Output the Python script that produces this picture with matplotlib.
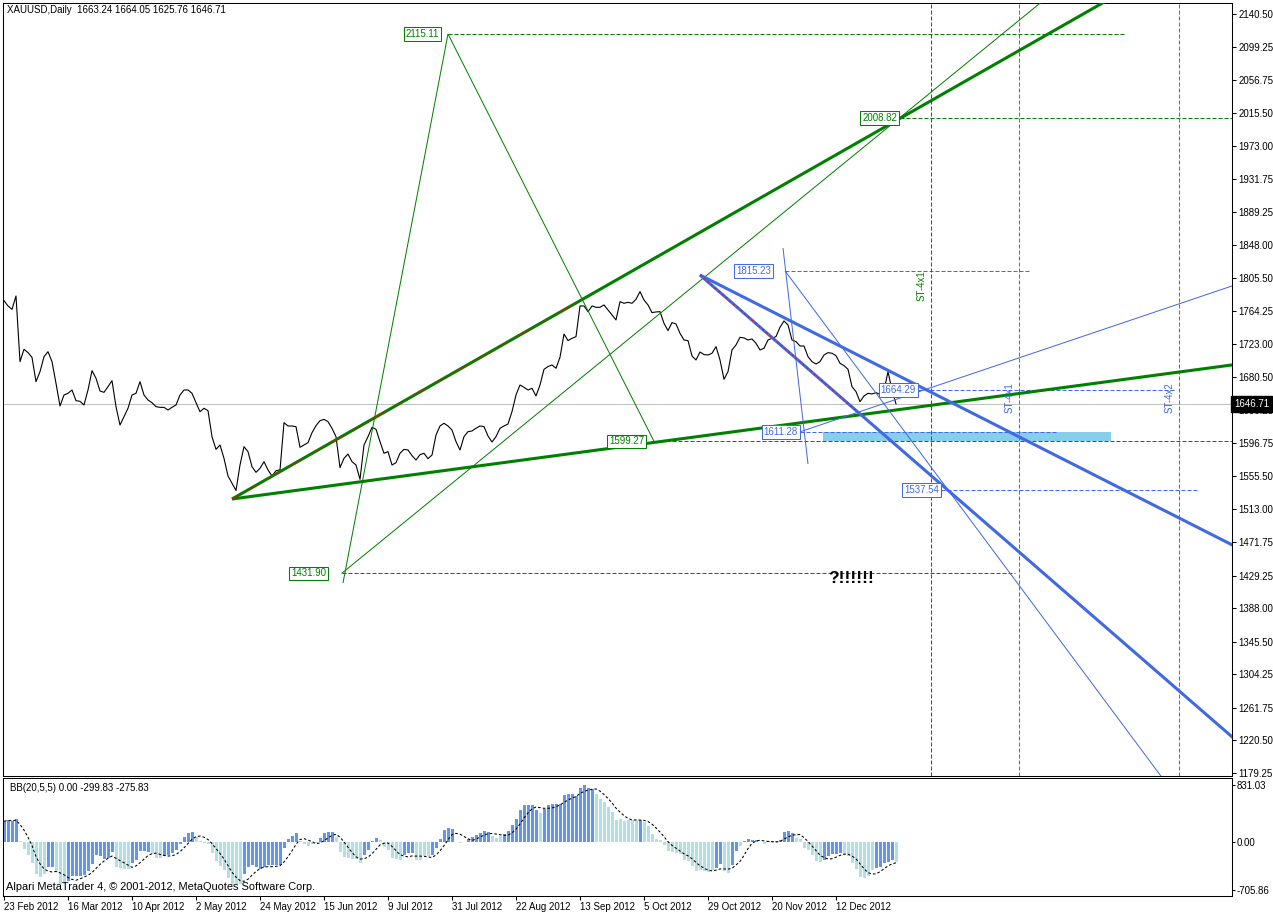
import numpy as np
import pandas as pd
import matplotlib
matplotlib.use("Agg")
import matplotlib.pyplot as plt
from matplotlib.patches import Rectangle
from matplotlib.transforms import blended_transform_factory

plt.rcParams['font.family'] = ['Liberation Sans', 'DejaVu Sans']

# daily closes, one per bar (23 Feb 2012 .. end Dec 2012)
close = [
    1777.4, 1770.7, 1766.4, 1783.3, 1700.2, 1715.8, 1711.6, 1705.6, 1674.8, 1687.5,
    1706.5, 1712.8, 1700.2, 1672.7, 1644.0, 1657.9, 1660.1, 1664.3, 1650.8, 1649.9,
    1645.3, 1664.3, 1688.8, 1679.1, 1663.0, 1661.3, 1668.5, 1676.1, 1643.2, 1619.9,
    1630.5, 1641.1, 1657.9, 1660.1, 1674.8, 1657.9, 1651.6, 1648.2, 1643.2, 1642.3,
    1642.3, 1638.9, 1642.3, 1645.3, 1657.9, 1664.3, 1664.3, 1660.1, 1648.2, 1636.8,
    1641.1, 1638.1, 1605.2, 1589.1, 1594.6, 1577.7, 1555.4, 1546.1, 1537.0, 1569.3,
    1592.5, 1586.2, 1567.2, 1560.0, 1565.1, 1573.5, 1563.0, 1555.4, 1562.1, 1563.0,
    1622.9, 1618.7, 1618.7, 1617.8, 1591.7, 1594.6, 1597.6, 1610.2, 1619.1, 1625.4,
    1627.1, 1624.2, 1615.7, 1605.2, 1565.9, 1577.7, 1583.2, 1573.5, 1569.3, 1551.1,
    1594.6, 1605.2, 1617.0, 1614.5, 1598.8, 1584.1, 1586.2, 1569.3, 1572.2, 1584.1,
    1589.1, 1588.3, 1581.1, 1575.6, 1582.4, 1584.1, 1577.3, 1581.9, 1607.3, 1618.7,
    1622.1, 1618.7, 1613.6, 1598.9, 1588.3, 1605.2, 1611.5, 1612.4, 1615.8, 1618.7,
    1617.9, 1606.0, 1598.4, 1605.2, 1615.8, 1618.7, 1621.2, 1636.9, 1658.0, 1670.6,
    1667.7, 1664.3, 1666.4, 1656.7, 1670.6, 1690.5, 1693.9, 1696.0, 1691.8, 1705.7,
    1735.2, 1726.8, 1729.7, 1731.9, 1770.7, 1770.7, 1763.5, 1770.7, 1769.0, 1769.0,
    1772.0, 1765.6, 1759.3, 1753.0, 1776.2, 1774.1, 1775.3, 1774.1, 1779.1, 1788.9,
    1778.3, 1772.0, 1762.3, 1763.1, 1763.5, 1748.7, 1739.5, 1749.6, 1747.9, 1736.1,
    1727.6, 1726.8, 1707.4, 1702.3, 1712.4, 1709.1, 1708.6, 1710.8, 1719.2, 1702.3,
    1677.8, 1687.5, 1715.0, 1721.3, 1731.0, 1730.2, 1727.6, 1728.9, 1723.4, 1715.0,
    1717.1, 1727.6, 1729.8, 1731.9, 1743.7, 1751.7, 1746.6, 1727.6, 1725.5, 1720.0,
    1720.0, 1706.5, 1700.2, 1697.2, 1700.2, 1708.6, 1711.6, 1710.8, 1707.8, 1698.1,
    1695.1, 1690.5, 1668.5, 1662.2, 1649.5, 1656.7, 1660.1, 1659.2, 1660.9, 1658.8,
    1663.5, 1687.5, 1664.3, 1646.71,
]

# BB(20,5,5) histogram
hist = [
    305, 329, 305, 339, 10, -108, -196, -309, -476, -516,
    -476, -368, -368, -442, -614, -614, -575, -506, -506, -506,
    -491, -432, -319, -196, -211, -246, -231, -147, -368, -378,
    -403, -403, -309, -270, -137, -137, -147, -172, -231, -231,
    -211, -187, -162, -123, -34, 74, 133, 142, 74, 15,
    -15, -34, -162, -280, -359, -418, -526, -639, -639, -614,
    -476, -368, -344, -368, -393, -368, -344, -344, -344, -344,
    -88, 39, 83, 133, 15, -25, -64, -34, -15, 64,
    133, 152, 142, 74, -147, -221, -231, -246, -246, -309,
    -196, -123, 15, 64, 25, -74, -113, -231, -246, -260,
    -196, -162, -162, -260, -260, -211, -211, -196, -83, 49,
    172, 211, 196, 5, -10, 5, 39, 74, 98, 133,
    157, 147, 83, 64, 83, 113, 157, 246, 344, 467,
    540, 540, 540, 476, 427, 491, 540, 565, 565, 555,
    688, 702, 712, 678, 786, 835, 796, 776, 702, 629,
    580, 516, 442, 319, 344, 309, 319, 319, 329, 329,
    295, 231, 123, 49, 34, -49, -137, -147, -157, -172,
    -260, -285, -359, -427, -418, -427, -442, -408, -378, -329,
    -427, -457, -344, -137, -64, 15, 49, 34, 34, -5,
    -34, 10, 10, 20, 29, 147, 162, 138, 59, 39,
    -83, -113, -196, -285, -295, -260, -211, -182, -172, -162,
    -172, -211, -309, -393, -516, -530, -506, -408, -378, -368,
    -309, -295, -260, -300,
]
# D = dark bar (rising), L = light bar (falling)
hist_up = ("DDDDLLLLLLLDDLLL" "DDDDDDDDDDDD" "LLLL" "DDDDD" "LLL" "DDDDDDDD"
           "LLLLLLLLLLLL" "DDDDDDDDDDDDDD" "LLLLL" "DDDD" "LLLLLLL" "DDDD"
           "LLLLLL" "DDD" "LLLL" "DDDDDD" "LLL" "DDDDDD" "LLL" "DDDDDDDDD" "L"
           "DDDDDDDDDDDDD" "LLLLLLLLLLL" "D" "LLLLLLLLLLLLLLLLLL" "DD" "LL" "DD"
           "L" "DDDD" "LL" "DDDDDDD" "LLLLLLL" "DDDDD" "LLLLLLLL" "DDDDD" "L")

date_labels = ["23 Feb 2012", "16 Mar 2012", "10 Apr 2012", "2 May 2012", "24 May 2012",
               "15 Jun 2012", "9 Jul 2012", "31 Jul 2012", "22 Aug 2012", "13 Sep 2012",
               "5 Oct 2012", "29 Oct 2012", "20 Nov 2012", "12 Dec 2012"]
date_bars = [0, 16, 32, 48, 64, 80, 96, 112, 128, 144, 160, 176, 192, 208]

price_ticks = [2140.50, 2099.25, 2056.75, 2015.50, 1973.00, 1931.75, 1889.25, 1848.00,
               1805.50, 1764.25, 1723.00, 1680.50, 1639.25, 1596.75, 1555.50, 1513.00,
               1471.75, 1429.25, 1388.00, 1345.50, 1304.25, 1261.75, 1220.50, 1179.25]
osc_ticks = [831.03, 0.00, -705.86]

# chart objects: anchors as (bar, price)
green_up = [(57, 1526.2), (144.75, 1779.5)]
green_low = [(57, 1526.2), (307, 1696.0)]
green_steep = [(84.75, 1419.9), (111, 2115.11)]
green_back = [(111, 2115.11), (162.5, 1599.27)]
green_thin = [(84.4, 1431.9), (111.5, 1544.0)]
blue_up = [(174, 1809.9), (307, 1468.2)]
blue_low = [(174, 1809.9), (213.25, 1637.3)]
blue_steep = [(194.75, 1844.1), (201, 1570.6)]
blue_diag = [(195.25, 1815.23), (290, 1170.1)]
blue_rise = [(199, 1611.28), (307, 1796.0)]

# price levels: (value, start bar, end bar)
green_levels = [(2115.11, 111, 280.5), (2008.82, 224, 310), (1599.27, 162.5, 310),
                (1431.90, 84.4, 252.75)]
blue_levels = [(1815.23, 195.25, 256.5), (1664.29, 228.5, 293), (1611.28, 199, 263.25),
               (1537.54, 234.25, 298.75)]
# boxed labels: (value, bar of box right edge)
green_labels = [(2115.11, 109.25), (2008.82, 223.75), (1599.27, 160.5), (1431.90, 81)]
blue_labels = [(1815.23, 192.25), (1664.29, 228.5), (1611.28, 199), (1537.54, 234.25)]
vlines = [(231.75, "ST-4x1", 1796.0, "green"), (253.75, "ST-4x1", 1654.0, "blue"),
          (293.75, "ST-4x2", 1654.0, "blue")]
zone = (204.75, 276.75, 1599.27, 1611.28)

GREEN = "#008000"
BLUE = "#4169E1"
DASH = (0, (4, 2))
THIN = 0.72
THICK = 2.2


def trend(ax, pts, ray=False, **kw):
    (b0, v0), (b1, v1) = pts
    if ray:
        slope = (v1 - v0) / (b1 - b0)
        b1, v1 = 420, v0 + slope * (420 - b0)
    ax.plot([b0, b1], [v0, v1], solid_capstyle="butt", **kw)


fig = plt.figure(figsize=(12.73, 9.13), dpi=100)
ax = fig.add_axes([3 / 1273, 137 / 913, 1229 / 1273, 773 / 913])
ax2 = fig.add_axes([3 / 1273, 17 / 913, 1229 / 1273, 118 / 913])

bars = np.arange(len(close))
ax.axhline(close[-1], color="#C0C0C0", lw=THIN, zorder=1, snap=True)
ax.plot(bars, close, color="black", lw=0.8, zorder=3)

ax.add_patch(Rectangle((zone[0], zone[2]), zone[1] - zone[0], zone[3] - zone[2],
                       fc="#87CEEB", ec="none", zorder=2, antialiased=False))

# green objects
trend(ax, green_up, ray=True, color=GREEN, lw=THICK, zorder=4)
trend(ax, green_up, color="red", lw=0.7, ls=(0, (2, 3)), zorder=5)
trend(ax, green_low, ray=True, color=GREEN, lw=THICK, zorder=4)
trend(ax, green_steep, color=GREEN, lw=THIN, zorder=4)
trend(ax, green_back, color=GREEN, lw=THIN, zorder=4)
trend(ax, green_thin, ray=True, color=GREEN, lw=THIN, zorder=4)

# blue objects
trend(ax, blue_up, ray=True, color=BLUE, lw=THICK, zorder=4)
trend(ax, blue_low, ray=True, color=BLUE, lw=THICK, zorder=4)
trend(ax, blue_low, color="red", lw=0.7, ls=(0, (2, 3)), zorder=5)
trend(ax, blue_steep, color=BLUE, lw=THIN, zorder=4)
trend(ax, blue_diag, ray=True, color=BLUE, lw=THIN, zorder=4)
trend(ax, blue_rise, ray=True, color=BLUE, lw=THIN, zorder=4)

for levels, col in [(green_levels, GREEN), (blue_levels, BLUE)]:
    for v, b0, b1 in levels:
        ax.plot([b0, b1], [v, v], color=col, lw=THIN, ls=DASH, zorder=3, snap=True)

for labels, col in [(green_labels, GREEN), (blue_labels, BLUE)]:
    for v, b in labels:
        ax.text(b - 0.5, v, f"{v:.2f}", color=col, fontsize=7, ha="right", va="center",
                zorder=6, bbox=dict(boxstyle="square,pad=0.18", fc="white", ec=col, lw=0.75))

for b, name, yv, c in vlines:
    col = GREEN if c == "green" else BLUE
    ax.axvline(b, color=col, lw=THIN, ls=DASH, zorder=3, snap=True)
    ax.text(b - 1.2, yv, name, color=col, fontsize=7, rotation=90,
            ha="right", va="center", zorder=6)

ax.text(206, 1424.9, "?!!!!!!", fontsize=12.5, fontweight="bold", color="black",
        ha="left", va="center", zorder=6)

ax.set_xlim(-0.25, 307)
ax.set_ylim(1175.4, 2154.4)
ax.set_xticks([])
ax.set_yticks(price_ticks)
ax.set_yticklabels([f"{v:.2f}" for v in price_ticks])
ax.yaxis.tick_right()
ax.tick_params(axis="y", direction="out", length=3, width=0.75, pad=1.5, labelsize=7)
for s in ax.spines.values():
    s.set_linewidth(0.75)

tr = blended_transform_factory(ax.transAxes, ax.transData)
ax.text(1.0015, close[-1], f"{close[-1]:.2f}", transform=tr, color="white", fontsize=7,
        ha="left", va="center", zorder=10, clip_on=False,
        bbox=dict(boxstyle="square,pad=0.3", fc="black", ec="black"))

fig.text(7 / 1273, 1 - 10 / 913, "XAUUSD,Daily  1663.24 1664.05 1625.76 1646.71",
         fontsize=7, ha="left", va="center")

# oscillator panel
colors = ["#6495ED" if c == "D" else "#B0E0E6" for c in hist_up]
ax2.bar(bars, hist, width=0.75, color=colors, linewidth=0, antialiased=False)
signal = pd.Series(hist).rolling(5, min_periods=1).mean()
ax2.plot(bars, signal, color="black", lw=0.75, ls=(0, (2.5, 2)))
ax2.set_xlim(-0.25, 307)
ax2.set_ylim(-794, 940)
ax2.set_yticks(osc_ticks)
ax2.set_yticklabels([f"{v:.2f}" for v in osc_ticks])
ax2.yaxis.tick_right()
ax2.tick_params(axis="y", direction="out", length=2, width=0.75, pad=1.5, labelsize=7)
ax2.set_xticks(date_bars)
ax2.set_xticklabels(date_labels, ha="left")
ax2.tick_params(axis="x", direction="out", length=3, width=0.75, pad=1, labelsize=7)
for s in ax2.spines.values():
    s.set_linewidth(0.75)
ax2.text(7 / 1229, 1 - 10 / 118, "BB(20,5,5) 0.00 -299.83 -275.83", transform=ax2.transAxes,
         fontsize=7, ha="left", va="center")
ax2.text(3 / 1229, 9 / 118, "Alpari MetaTrader 4, \u00a9 2001-2012, MetaQuotes Software Corp.",
         transform=ax2.transAxes, fontsize=7.9, ha="left", va="center")

fig.savefig("out.png", dpi=100)
